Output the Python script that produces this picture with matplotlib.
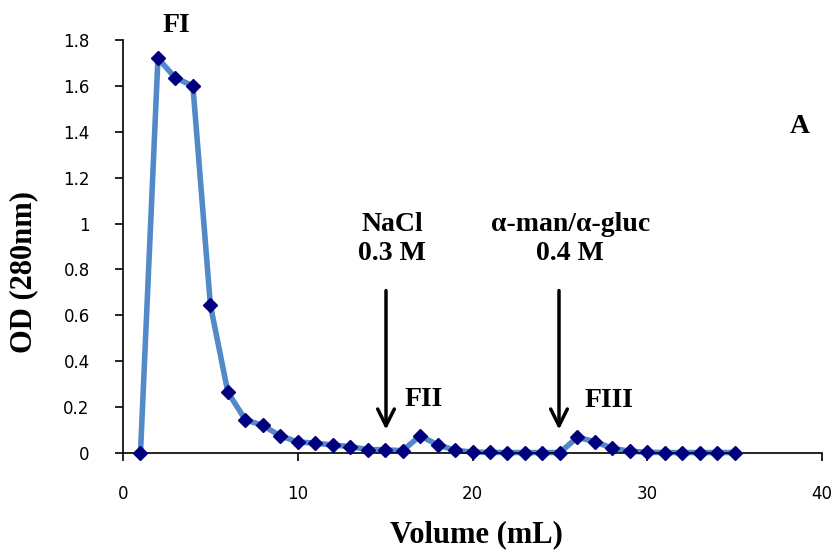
import matplotlib
matplotlib.use("Agg")
import matplotlib.pyplot as plt

volume = list(range(1, 36))
od = [0.0, 1.72, 1.635, 1.60, 0.645, 0.265, 0.145, 0.12, 0.075, 0.048,
      0.043, 0.035, 0.028, 0.015, 0.014, 0.01, 0.075, 0.036, 0.012, 0.004,
      0.003, 0.002, 0.002, 0.002, 0.002, 0.068, 0.05, 0.02, 0.008, 0.003,
      0.002, 0.002, 0.002, 0.002, 0.002]
xticks = [0, 10, 20, 30, 40]
yticks = [0, 0.2, 0.4, 0.6, 0.8, 1, 1.2, 1.4, 1.6, 1.8]
ytick_labels = ["0", "0.2", "0.4", "0.6", "0.8", "1", "1.2", "1.4", "1.6", "1.8"]

serif = "Liberation Serif"
sans = "DejaVu Sans"

fig = plt.figure(figsize=(8.39, 5.54), dpi=100)
ax = fig.add_axes([123/839, 1-453/554, (822-123)/839, (453-40)/554])

ax.plot(volume, od, color="#5189C9", lw=4, zorder=2, clip_on=False,
        solid_joinstyle="round")
ax.plot(volume, od, ls="none", marker="D", ms=7, color="#00007F",
        zorder=3, clip_on=False)

ax.set_xlim(0, 40)
ax.set_ylim(0, 1.8)
ax.set_xticks(xticks)
ax.set_xticklabels([str(t) for t in xticks], fontfamily=sans, fontsize=12)
ax.set_yticks(yticks)
ax.set_yticklabels(ytick_labels, fontfamily=sans, fontsize=12)
ax.spines["top"].set_visible(False)
ax.spines["right"].set_visible(False)
for s in ("left", "bottom"):
    ax.spines[s].set_linewidth(1.2)
ax.tick_params(axis="x", direction="out", length=6, width=1.2, pad=17)
ax.tick_params(axis="y", direction="out", length=6, width=1.2, pad=18)

ax.set_xlabel("Volume (mL)", fontfamily=serif, fontweight="bold", fontsize=22)
ax.set_ylabel("OD (280nm)", fontfamily=serif, fontweight="bold", fontsize=22)
ax.xaxis.set_label_coords((476-123)/699, (453-520)/413)
ax.yaxis.set_label_coords((38-123)/699, (453-272)/413)

tkw = dict(fontfamily=serif, fontweight="bold", fontsize=20)
ax.text(3.05, 1.835, "FI", ha="center", va="baseline", **tkw)
ax.text(17.2, 0.205, "FII", ha="center", va="baseline", **tkw)
ax.text(27.8, 0.2, "FIII", ha="center", va="baseline", **tkw)
ax.text(38.75, 1.395, "A", ha="center", va="baseline", **tkw)
ax.text(15.4, 0.815, "NaCl\n0.3 M", ha="center", va="bottom", linespacing=1.2, **tkw)
ax.text(25.6, 0.815, "\u03b1-man/\u03b1-gluc\n0.4 M", ha="center", va="bottom", linespacing=1.2, **tkw)

for xa in (15.05, 24.95):
    ax.annotate("", xy=(xa, 0.09), xytext=(xa, 0.72),
                arrowprops=dict(arrowstyle="->", color="black", lw=2.5,
                                mutation_scale=30))

fig.savefig("out.png", dpi=100)
